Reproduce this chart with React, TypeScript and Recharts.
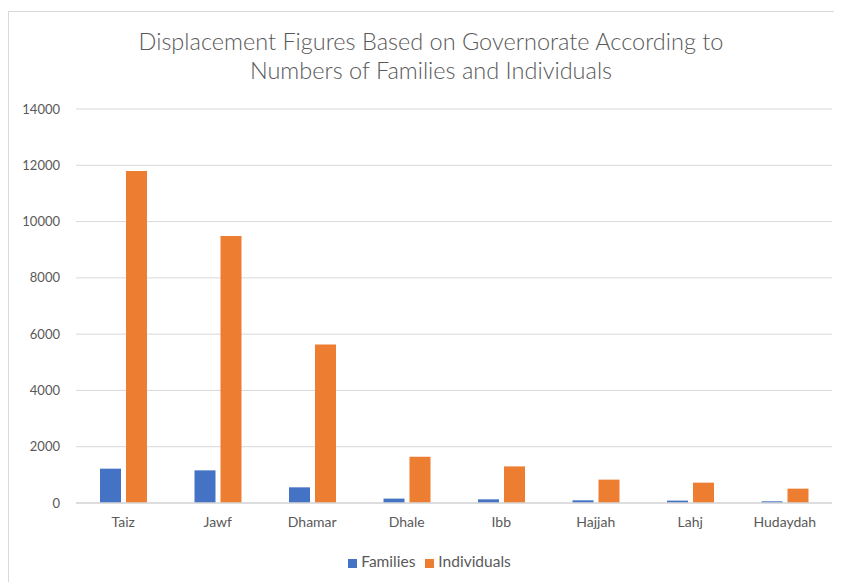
import { BarChart, Bar, XAxis, YAxis, CartesianGrid, Legend } from "recharts";

const governorates = ["Taiz", "Jawf", "Dhamar", "Dhale", "Ibb", "Hajjah", "Lahj", "Hudaydah"];
const families = [1220, 1160, 557, 156, 130, 96, 85, 60];
const individuals = [11800, 9490, 5630, 1645, 1300, 830, 723, 510];
const yTicks = [0, 2000, 4000, 6000, 8000, 10000, 12000, 14000];

const data = governorates.map((name, i) => ({
  name,
  Families: families[i],
  Individuals: individuals[i],
}));

const font = "Lato, 'Open Sans', sans-serif";

export default function App() {
  return (
    <div
      style={{
        position: "relative",
        marginTop: 3,
        width: 834,
        height: 570,
        borderLeft: "1px solid #d9d9d9",
        borderTop: "1px solid #d9d9d9",
        background: "#fff",
        fontFamily: font,
        overflow: "hidden",
      }}
    >
      <div
        style={{
          position: "absolute",
          left: 0,
          width: 844,
          top: 15,
          textAlign: "center",
          color: "#595959",
          fontSize: 23.5,
          lineHeight: "29px",
          fontWeight: 300,
        }}
      >
        Displacement Figures Based on Governorate According to
        <br />
        Numbers of Families and Individuals
      </div>
      <BarChart
        width={834}
        height={570}
        data={data}
        margin={{ top: 97, right: 11, bottom: 31, left: 0 }}
        barSize={21}
        barGap={5}
      >
        <CartesianGrid vertical={false} stroke="#d9d9d9" />
        <XAxis
          dataKey="name"
          axisLine={{ stroke: "#d9d9d9", strokeWidth: 1.5 }}
          tickLine={false}
          tickMargin={8}
          tick={{ fill: "#595959", fontSize: 14, fontFamily: font }}
          interval={0}
        />
        <YAxis
          width={67}
          domain={[0, 14000]}
          ticks={yTicks}
          axisLine={false}
          tickLine={false}
          tickMargin={10}
          tick={{ fill: "#595959", fontSize: 13, fontFamily: font }}
        />
        <Legend
          verticalAlign="bottom"
          iconType="square"
          iconSize={9}
          wrapperStyle={{ bottom: 12, left: 14, fontSize: 15.5, color: "#595959", fontFamily: font }}
          formatter={(v) => <span style={{ color: "#595959" }}>{v}</span>}
        />
        <Bar dataKey="Families" fill="#4472C4" isAnimationActive={false} />
        <Bar dataKey="Individuals" fill="#ED7D31" isAnimationActive={false} />
      </BarChart>
    </div>
  );
}
